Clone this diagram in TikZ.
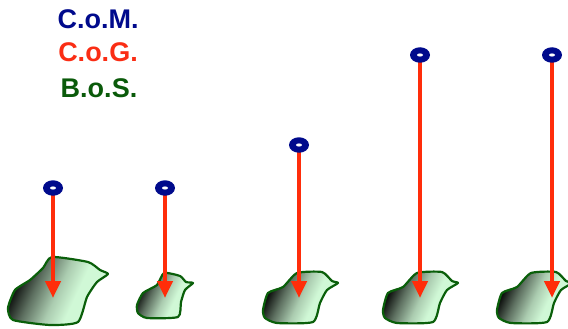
\documentclass[tikz,border=0pt]{standalone}
\usepackage{fontspec}
\setmainfont{Liberation Sans}
\usetikzlibrary{arrows.meta,shapes.geometric}
\definecolor{comblue}{RGB}{0,10,140}
\definecolor{cogred}{RGB}{250,45,20}
\definecolor{bosgreen}{RGB}{10,90,10}
\definecolor{footline}{RGB}{10,95,10}
\definecolor{lgreen}{RGB}{208,248,214}
\definecolor{arrowred}{RGB}{255,45,10}
\pgfdeclarehorizontalshading{footshade}{100bp}{color(0bp)=(black); color(26bp)=(black); color(38bp)=(black!55!lgreen); color(50bp)=(black!18!lgreen); color(60bp)=(lgreen); color(100bp)=(lgreen)}
\tikzset{
  lbl/.style={font=\fontsize{27}{30}\selectfont\bfseries, inner sep=0pt, anchor=center},
  foot/.style={draw=footline, line width=2.2pt, line join=round, shading=footshade, shading angle=-25},
  com/.style={shape=ellipse, fill=comblue, draw=none, inner sep=0pt, minimum width=20pt, minimum height=15.5pt},
  hole/.style={fill=white},
  fall/.style={draw=arrowred, line width=4.5pt, -{Triangle[width=15pt,length=17pt]}},
}
\begin{document}
\begin{tikzpicture}[x=1pt,y=-1pt]
\useasboundingbox (0,0) rectangle (568,329);
\node[lbl, text=comblue] (tm) at (98,19.5) {C.o.M.};
\node[lbl, text=cogred] (tg) at (98,52) {C.o.G.};
\node[lbl, text=bosgreen] (tb) at (99,88) {B.o.S.};
% feet
\begin{scope}
\clip (0,0) rectangle (568,329);
\path[foot] plot[smooth cycle, tension=0.35] coordinates {(52,257) (88,262) (100,270) (108,274) (97,282) (87,297) (78,322) (50,325) (13,320) (8,308) (15,290) (30,280) (43,268)};
\path[foot] plot[smooth cycle, tension=0.35] coordinates {(137,305) (143,293) (157,285) (164,273) (180,276) (186,282) (193,283) (185,290) (181,302) (178,317) (147,318) (138,313)};
\foreach \dx in {0,120,234}{
\path[foot, shift={(\dx,0)}] plot[smooth cycle, tension=0.35] coordinates {(263,310) (268,293) (283,287) (297,273) (322,272) (332,281) (338,283) (327,290) (320,303) (313,322) (277,323) (265,318)};
}
\end{scope}
% arrows and dots
\foreach \i/\x/\y in {1/53/188,2/165/188,3/299/145,4/420/55,5/552/55}{
  \coordinate (t\i) at (\x,298);
  \coordinate (s\i) at (\x,\y);
  \draw[fall] (s\i) -- (t\i);
  \node[com] (c\i) at (s\i) {};
  \fill[hole] (s\i) ellipse [x radius=3pt, y radius=1.6pt];
}
\end{tikzpicture}
\end{document}
